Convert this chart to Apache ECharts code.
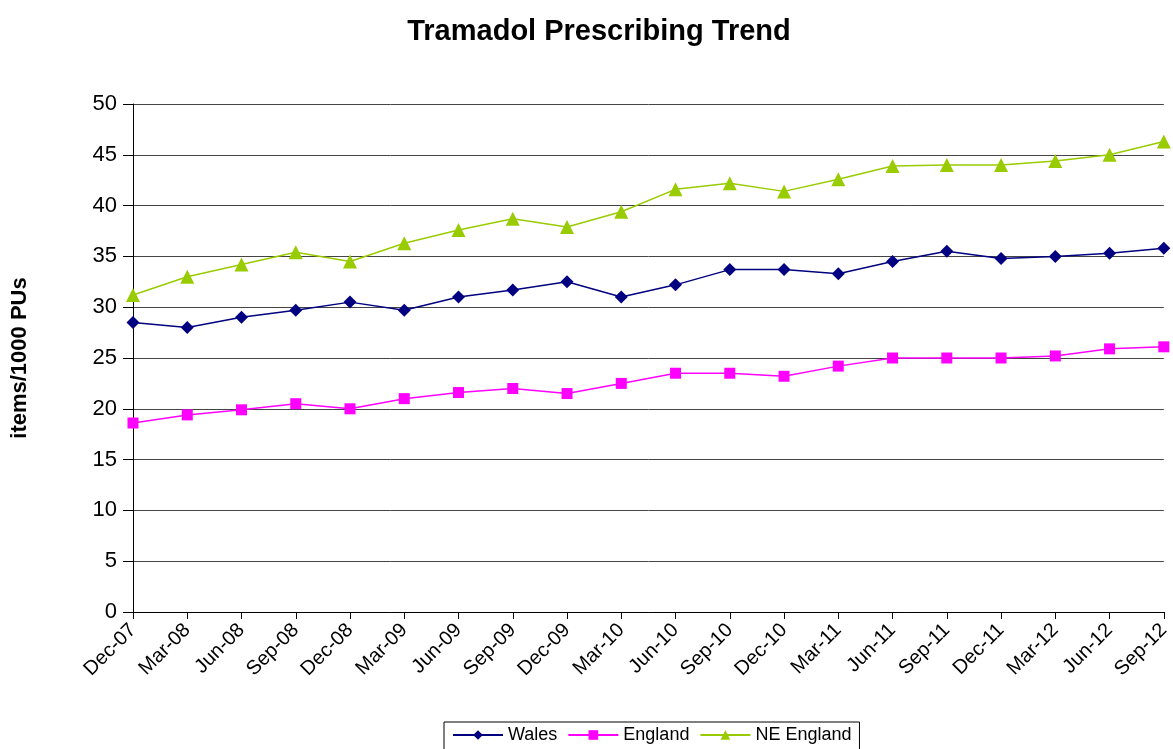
<!DOCTYPE html>
<html>
<head>
<meta charset="utf-8">
<title>Tramadol Prescribing Trend</title>
<script src="https://cdn.jsdelivr.net/npm/echarts@6/dist/echarts.min.js"></script>
<style>
  html, body { margin: 0; padding: 0; background: #fff; }
  #chart { width: 1173px; height: 749px; }
</style>
</head>
<body>
<div id="chart"></div>
<script>
// quarterly categories
var quarters = ['Dec-07', 'Mar-08', 'Jun-08', 'Sep-08', 'Dec-08', 'Mar-09', 'Jun-09', 'Sep-09', 'Dec-09', 'Mar-10',
  'Jun-10', 'Sep-10', 'Dec-10', 'Mar-11', 'Jun-11', 'Sep-11', 'Dec-11', 'Mar-12', 'Jun-12', 'Sep-12'];

var wales = [28.5, 28.0, 29.0, 29.7, 30.5, 29.7, 31.0, 31.7, 32.5, 31.0,
  32.2, 33.7, 33.7, 33.3, 34.5, 35.5, 34.8, 35.0, 35.3, 35.8];
var england = [18.6, 19.4, 19.9, 20.5, 20.0, 21.0, 21.6, 22.0, 21.5, 22.5,
  23.5, 23.5, 23.2, 24.2, 25.0, 25.0, 25.0, 25.2, 25.9, 26.1];
var neEngland = [31.2, 33.0, 34.2, 35.4, 34.5, 36.3, 37.6, 38.7, 37.9, 39.4,
  41.6, 42.2, 41.4, 42.6, 43.9, 44.0, 44.0, 44.4, 45.0, 46.3];

var chart = echarts.init(document.getElementById('chart'));
var font = '"Liberation Sans", Arial, sans-serif';

function lineSeries(name, data, color, symbol, size) {
  return {
    name: name,
    type: 'line',
    data: data,
    symbol: symbol,
    symbolSize: size,
    showAllSymbol: true,
    animation: false,
    lineStyle: { color: color, width: 1.5 },
    itemStyle: { color: color },
    emphasis: { disabled: true }
  };
}

var option = {
  backgroundColor: '#fff',
  textStyle: { fontFamily: font },
  title: {
    text: 'Tramadol Prescribing Trend',
    left: 594,
    textAlign: 'center',
    top: 12,
    textStyle: { fontFamily: font, fontSize: 29, fontWeight: 'bold', color: '#000' }
  },
  legend: {
    left: 444,
    top: 722,
    itemWidth: 50,
    itemHeight: 12,
    itemGap: 10,
    padding: [4, 8, 6, 8],
    borderColor: '#000',
    borderWidth: 1,
    textStyle: { fontFamily: font, fontSize: 18, color: '#000' },
    data: ['Wales', 'England', 'NE England']
  },
  grid: { left: 133, right: 3, top: 104, bottom: 137 },
  xAxis: {
    type: 'category',
    boundaryGap: false,
    data: quarters,
    axisLine: { lineStyle: { color: '#000', width: 1 } },
    axisTick: { show: true, length: 7, lineStyle: { color: '#000' } },
    axisLabel: { rotate: 45, interval: 0, margin: 15, fontSize: 20, color: '#000', fontFamily: font },
    splitLine: { show: false }
  },
  yAxis: {
    type: 'value',
    min: 0,
    max: 50,
    interval: 5,
    name: 'items/1000 PUs',
    nameLocation: 'middle',
    nameGap: 102,
    nameRotate: 90,
    nameTextStyle: { fontFamily: font, fontSize: 22, fontWeight: 'bold', color: '#000' },
    axisLine: { show: true, lineStyle: { color: '#000', width: 1 } },
    axisTick: { show: true, length: 10, lineStyle: { color: '#000' } },
    axisLabel: { fontSize: 22, color: '#000', margin: 16, fontFamily: font },
    splitLine: { lineStyle: { color: '#444', width: 1 } }
  },
  series: [
    lineSeries('Wales', wales, '#000080', 'diamond', 13),
    lineSeries('England', england, '#ff00ff', 'rect', 11),
    lineSeries('NE England', neEngland, '#99cc00', 'triangle', 14)
  ]
};

chart.setOption(option);
</script>
</body>
</html>
